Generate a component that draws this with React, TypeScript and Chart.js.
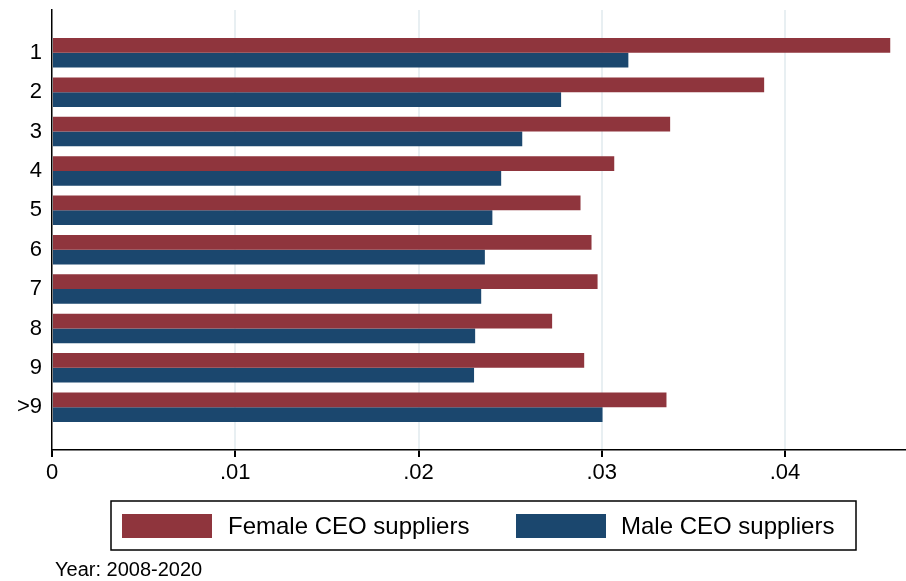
import React, { useEffect, useRef } from "react";
import { Chart, registerables } from "chart.js";

Chart.register(...registerables);

const categories = ["1", "2", "3", "4", "5", "6", "7", "8", "9", ">9"];
const femaleValues = [0.04574, 0.03886, 0.03373, 0.03068, 0.02884, 0.02944, 0.02977, 0.02729, 0.02904, 0.03353];
const maleValues = [0.03145, 0.02778, 0.02566, 0.02451, 0.02403, 0.02362, 0.02342, 0.02309, 0.02303, 0.03004];
const xTickValues = [0, 0.01, 0.02, 0.03, 0.04];
const xTickLabels = ["0", ".01", ".02", ".03", ".04"];
const seriesLabels = ["Female CEO suppliers", "Male CEO suppliers"];
const seriesColors = ["#8F353D", "#1B476E"];
const noteText = "Year: 2008-2020";

const FONT = "'Liberation Sans', Arial, sans-serif";

const legendPlugin = {
  id: "stataLegend",
  afterDraw(chart: any) {
    const ctx = chart.ctx;
    const ds = chart.data.datasets;
    ctx.save();
    const bx = 111, by = 501, bw = 745, bh = 49;
    ctx.strokeStyle = "#000";
    ctx.lineWidth = 1.5;
    ctx.strokeRect(bx, by, bw, bh);
    const entries = [
      { sx: 122, tx: 228 },
      { sx: 516, tx: 621 },
    ];
    ctx.font = `24px ${FONT}`;
    ctx.textBaseline = "middle";
    ctx.textAlign = "left";
    ds.forEach((d: any, i: number) => {
      const e = entries[i];
      ctx.fillStyle = d.backgroundColor;
      ctx.fillRect(e.sx, by + 13, 90, 24);
      ctx.fillStyle = "#000";
      ctx.fillText(d.label, e.tx, by + 26);
    });
    ctx.font = `20px ${FONT}`;
    ctx.fillStyle = "#000";
    ctx.fillText(noteText, 55, 570);
    ctx.restore();
  },
};

export default function App() {
  const ref = useRef<HTMLCanvasElement | null>(null);
  useEffect(() => {
    if (!ref.current) return;
    const chart = new Chart(ref.current, {
      type: "bar",
      data: {
        datasets: [
          {
            label: seriesLabels[0],
            data: femaleValues.map((v, i) => ({ x: v, y: i + 1 })),
            backgroundColor: seriesColors[0],
            borderWidth: 0,
          },
          {
            label: seriesLabels[1],
            data: maleValues.map((v, i) => ({ x: v, y: i + 1 })),
            backgroundColor: seriesColors[1],
            borderWidth: 0,
          },
        ],
      },
      options: {
        indexAxis: "y",
        animation: false,
        responsive: false,
        maintainAspectRatio: false,
        categoryPercentage: 0.75,
        barPercentage: 1,
        layout: { padding: { top: 10, right: 0, bottom: 91, left: 0 } },
        plugins: {
          legend: { display: false },
          tooltip: { enabled: false },
        },
        scales: {
          x: {
            type: "linear",
            min: 0,
            max: 0.0466,
            afterBuildTicks: (scale: any) => {
              scale.ticks = xTickValues.map((v) => ({ value: v }));
            },
            afterFit: (scale: any) => {
              scale.height = 40;
              scale.paddingLeft = 0;
              scale.paddingRight = 0;
            },
            ticks: {
              color: "#000",
              font: { family: FONT, size: 22 },
              padding: 3,
              maxRotation: 0,
              autoSkip: false,
              callback: (v: any) => {
                const idx = xTickValues.findIndex((t) => Math.abs(t - v) < 1e-9);
                return idx >= 0 ? xTickLabels[idx] : "";
              },
            },
            grid: {
              color: (c: any) => (c.tick && c.tick.value === 0 ? "rgba(0,0,0,0)" : "#E8EFF2"),
              lineWidth: 2,
              tickColor: "#000",
              tickLength: 7,
              drawOnChartArea: true,
            },
            border: { display: true, color: "#000", width: 1.5 },
          },
          y: {
            type: "linear",
            reverse: true,
            offset: false,
            min: -0.087,
            max: 11.087,
            afterBuildTicks: (scale: any) => {
              scale.ticks = categories.map((_, i) => ({ value: i + 1 }));
            },
            afterFit: (scale: any) => {
              scale.width = 52;
              scale.paddingTop = 0;
              scale.paddingBottom = 0;
            },
            ticks: {
              color: "#000",
              font: { family: FONT, size: 22 },
              padding: 2,
              autoSkip: false,
              callback: (v: any) => {
                const i = Math.round(v) - 1;
                return i >= 0 && i < categories.length ? categories[i] : "";
              },
            },
            grid: { display: false },
            border: { display: true, color: "#000", width: 1.5 },
          },
        },
      },
      plugins: [legendPlugin],
    } as any);
    return () => chart.destroy();
  }, []);
  return (
    <div style={{ position: "fixed", left: 0, top: 0, width: 906, height: 581, background: "#fff" }}>
      <canvas ref={ref} width={906} height={581} style={{ width: 906, height: 581 }} />
    </div>
  );
}
